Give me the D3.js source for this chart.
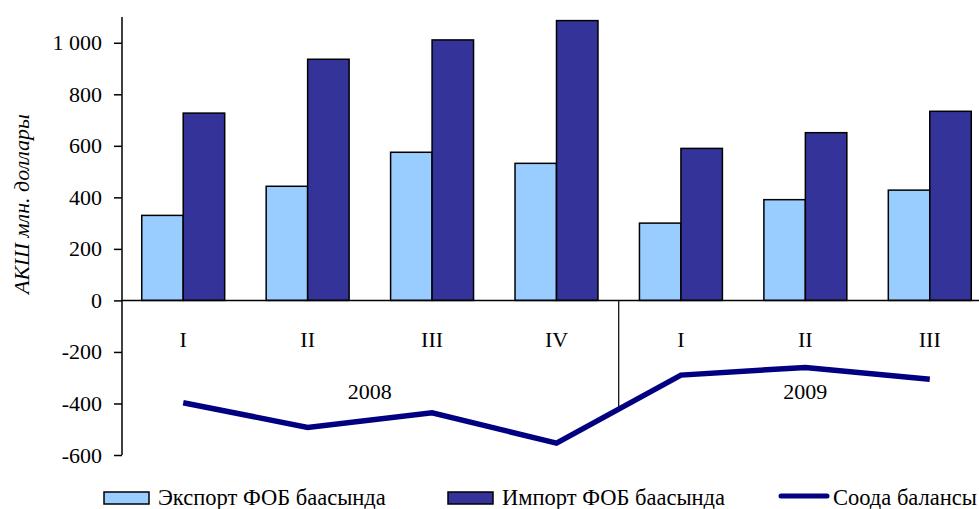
<!DOCTYPE html>
<html><head><meta charset="utf-8">
<script src="https://cdn.jsdelivr.net/npm/d3@7"></script>
<style>body{margin:0;background:#fff}svg{display:block}</style>
</head><body><svg id="c" width="979" height="509"></svg>
<script>
const categories = ["I","II","III","IV","I","II","III"];
const years = [{label:"2008", from:0, to:3}, {label:"2009", from:4, to:6}];
const exportVals = [330, 443, 575, 532, 300, 391, 428];
const importVals = [727, 936, 1011, 1086, 590, 651, 734];
const balanceVals = [-397, -493, -436, -554, -290, -260, -306];
const yTicks = [-600, -400, -200, 0, 200, 400, 600, 800, 1000];
const seriesNames = ["Экспорт ФОБ баасында", "Импорт ФОБ баасында", "Соода балансы"];
const yTitle = "АКШ млн. доллары";

const FONT = "Liberation Serif";
const svg = d3.select("#c");
const x = d3.scaleBand().domain(d3.range(categories.length)).range([121, 992]).padding(0);
const y = d3.scaleLinear().domain([-600, 1100]).range([455, 17]);
const bw = x.bandwidth()/3;
const fmt = v => v >= 1000 ? d3.format(",")(v).replace(",", " ") : String(v);

// bars
const g = svg.append("g");
g.selectAll("rect.ex").data(exportVals).join("rect")
  .attr("x", (d,i) => x(i) + x.bandwidth()/2 - bw)
  .attr("y", d => y(d)).attr("width", bw).attr("height", d => y(0) - y(d))
  .attr("fill", "#99CCFF").attr("stroke", "#000").attr("stroke-width", 1.5);
g.selectAll("rect.im").data(importVals).join("rect")
  .attr("x", (d,i) => x(i) + x.bandwidth()/2)
  .attr("y", d => y(d)).attr("width", bw).attr("height", d => y(0) - y(d))
  .attr("fill", "#333399").attr("stroke", "#000").attr("stroke-width", 1.5);

// zero axis line
svg.append("line").attr("x1", 122).attr("x2", 992).attr("y1", y(0)).attr("y2", y(0))
  .attr("stroke", "#000").attr("stroke-width", 1.5);

// year separator
svg.append("line").attr("x1", x(4)).attr("x2", x(4)).attr("y1", y(0)).attr("y2", 408)
  .attr("stroke", "#000").attr("stroke-width", 1.2);

// y axis
const yAxis = d3.axisLeft(y).tickValues(yTicks).tickSize(8).tickPadding(12).tickFormat(fmt);
const ya = svg.append("g").attr("transform", "translate(122,0)").call(yAxis);
ya.attr("font-family", null).attr("font-size", null);
ya.select(".domain").attr("stroke", "#000").attr("stroke-width", 1.5).attr("d", `M0,${y(1100)}V${y(-600)}`);
ya.selectAll(".tick line").attr("stroke", "#000").attr("stroke-width", 1.5);
ya.selectAll(".tick text").style("font-size", "22px").style("font-family", FONT).attr("fill", "#000");

// category labels
svg.selectAll("text.cat").data(categories).join("text")
  .attr("x", (d,i) => x(i) + x.bandwidth()/2).attr("y", 347)
  .attr("text-anchor", "middle").style("font-family", FONT).style("font-size", "22px").text(d => d);

// year labels
svg.selectAll("text.yr").data(years).join("text")
  .attr("x", d => (x(d.from) + x(d.to) + x.bandwidth())/2).attr("y", 399)
  .attr("text-anchor", "middle").style("font-family", FONT).style("font-size", "22px").text(d => d.label);

// balance line
svg.append("path").datum(balanceVals)
  .attr("d", d3.line().x((d,i) => x(i) + x.bandwidth()/2).y(d => y(d)))
  .attr("fill", "none").attr("stroke", "#000080").attr("stroke-width", 5.5).attr("stroke-linejoin", "miter");

// y title
svg.append("text").attr("transform", "translate(29,204) rotate(-90)")
  .attr("text-anchor", "middle").style("font-family", FONT).style("font-size", "22px")
  .style("font-style", "italic").text(yTitle);

// legend
const lg = svg.append("g");
const LF = "22.5px";
lg.append("rect").attr("x", 104).attr("y", 492).attr("width", 45).attr("height", 12)
  .attr("fill", "#99CCFF").attr("stroke", "#000").attr("stroke-width", 1.5);
lg.append("text").attr("x", 158).attr("y", 505).style("font-family", FONT).style("font-size", LF).text(seriesNames[0]);
lg.append("rect").attr("x", 448).attr("y", 492).attr("width", 45).attr("height", 12)
  .attr("fill", "#333399").attr("stroke", "#000").attr("stroke-width", 1.5);
lg.append("text").attr("x", 502).attr("y", 505).style("font-family", FONT).style("font-size", LF).text(seriesNames[1]);
lg.append("line").attr("x1", 781).attr("x2", 827).attr("y1", 496).attr("y2", 496)
  .attr("stroke", "#000080").attr("stroke-width", 5).attr("stroke-linecap", "round");
lg.append("text").attr("x", 833).attr("y", 505).style("font-family", FONT).style("font-size", LF).text(seriesNames[2]);
</script></body></html>
